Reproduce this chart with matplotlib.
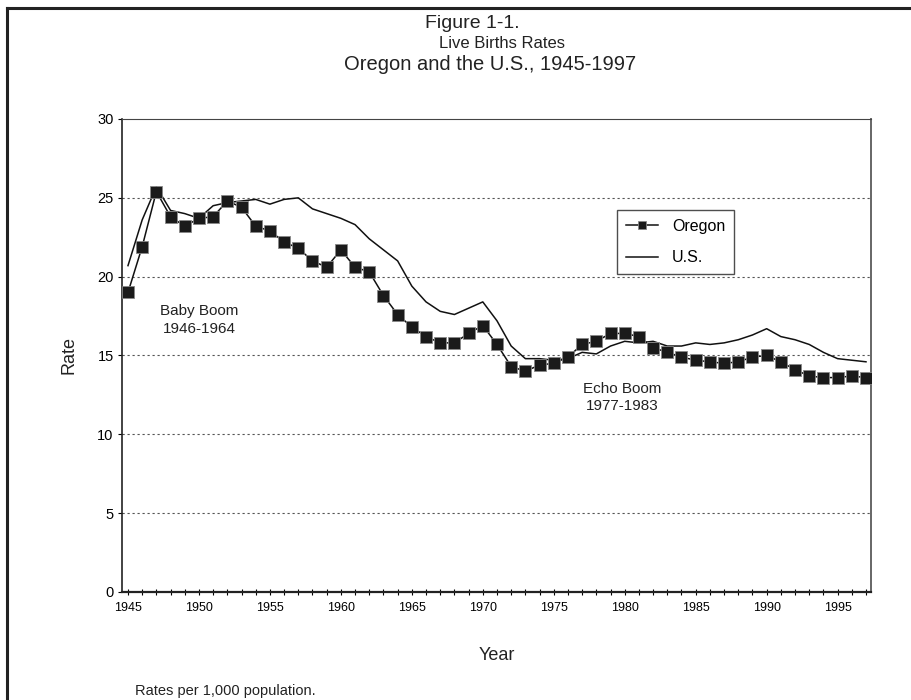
import matplotlib
matplotlib.use("Agg")
import matplotlib.pyplot as plt
from matplotlib.lines import Line2D

plt.rcParams["font.family"] = ["Liberation Sans", "DejaVu Sans"]

years = list(range(1945, 1998))

oregon = [
    19.0, 21.9, 25.4, 23.8, 23.2, 23.7, 23.8, 24.8, 24.4, 23.2,
    22.9, 22.2, 21.8, 21.0, 20.6, 21.7, 20.6, 20.3, 18.8, 17.6,
    16.8, 16.2, 15.8, 15.8, 16.4, 16.9, 15.7, 14.3, 14.0, 14.4,
    14.5, 14.9, 15.7, 15.9, 16.4, 16.4, 16.2, 15.5, 15.2, 14.9,
    14.7, 14.6, 14.5, 14.6, 14.9, 15.0, 14.6, 14.1, 13.7, 13.6,
    13.6, 13.7, 13.6,
]

us = [
    20.7, 23.6, 25.7, 24.2, 24.0, 23.7, 24.5, 24.7, 24.8, 24.9,
    24.6, 24.9, 25.0, 24.3, 24.0, 23.7, 23.3, 22.4, 21.7, 21.0,
    19.4, 18.4, 17.8, 17.6, 18.0, 18.4, 17.2, 15.6, 14.8, 14.8,
    14.7, 14.8, 15.2, 15.1, 15.6, 15.9, 15.8, 15.9, 15.6, 15.6,
    15.8, 15.7, 15.8, 16.0, 16.3, 16.7, 16.2, 16.0, 15.7, 15.2,
    14.8, 14.7, 14.6,
]

title_lines = ["Figure 1-1.", "Live Births Rates", "Oregon and the U.S., 1945-1997"]

fig = plt.figure(figsize=(9.12, 7.0), dpi=100)
ax = fig.add_axes([0.1338, 0.1543, 0.8212, 0.6757])

ax.plot(years, us, color="#111111", linewidth=1.1, label="U.S.", zorder=3)
ax.plot(years, oregon, color="#111111", linewidth=1.1, marker="s",
        markersize=8.8, markerfacecolor="#1a1a1a", markeredgecolor="#888888",
        markeredgewidth=0.6, label="Oregon", zorder=4)

ax.set_xlim(1944.58, 1997.35)
ax.set_ylim(0, 30)
ax.set_xticks(range(1945, 2000, 5))
ax.set_xticks(range(1945, 1998), minor=True)
ax.set_yticks(range(0, 31, 5))
ax.tick_params(axis="x", which="both", direction="inout", length=4,
               width=0.8, labelsize=9, pad=5)
ax.tick_params(axis="y", length=3, labelsize=10.5, pad=3)

for v in [5, 10, 15, 20, 25]:
    ax.axhline(v, color="#555555", linewidth=0.8, linestyle=(0, (2, 2.5)), zorder=1)

ax.spines["left"].set_color("#222222")
ax.spines["bottom"].set_color("#222222")
ax.spines["bottom"].set_linewidth(1.6)
ax.spines["left"].set_linewidth(1.2)
ax.spines["top"].set_color("#444444")
ax.spines["right"].set_color("#666666")
ax.spines["right"].set_linewidth(1.4)

ax.set_xlabel("Year", fontsize=13, labelpad=24, color="#222222")
ax.set_ylabel("Rate", fontsize=13, labelpad=14, color="#222222")

ax.text(1950.0, 17.25, "Baby Boom\n1946-1964", ha="center", va="center",
        fontsize=11, color="#222222", linespacing=1.3)
ax.text(1979.8, 12.35, "Echo Boom\n1977-1983", ha="center", va="center",
        fontsize=11, color="#222222", linespacing=1.3)

handles, labels = ax.get_legend_handles_labels()
leg = ax.legend([handles[1], handles[0]], [labels[1], labels[0]],
                loc="upper left", bbox_to_anchor=(0.661, 0.808),
                borderaxespad=0, fontsize=11.5, frameon=True, fancybox=False,
                edgecolor="#222222", labelspacing=1.05, handlelength=2.0,
                borderpad=0.55, handletextpad=0.9, markerscale=0.6)
leg.get_frame().set_linewidth(1.0)

# title, three centred lines
fig.text(472 / 912, 1 - 23 / 700, title_lines[0], ha="center", va="center",
         fontsize=14, color="#222222")
fig.text(502 / 912, 1 - 44 / 700, title_lines[1], ha="center", va="center",
         fontsize=12, color="#222222")
fig.text(490 / 912, 1 - 64 / 700, title_lines[2], ha="center", va="center",
         fontsize=14.5, color="#222222")

fig.text(0.148, 0.003, "Rates per 1,000 population.", ha="left", va="bottom",
         fontsize=10.5, color="#222222")

# page frame (top and left edges)
fig.add_artist(Line2D([0.008, 1.0], [0.988, 0.988], transform=fig.transFigure,
                      color="#222222", linewidth=2.2))
fig.add_artist(Line2D([0.008, 0.008], [0.0, 0.988], transform=fig.transFigure,
                      color="#222222", linewidth=2.2))

fig.savefig("out.png", dpi=100)
